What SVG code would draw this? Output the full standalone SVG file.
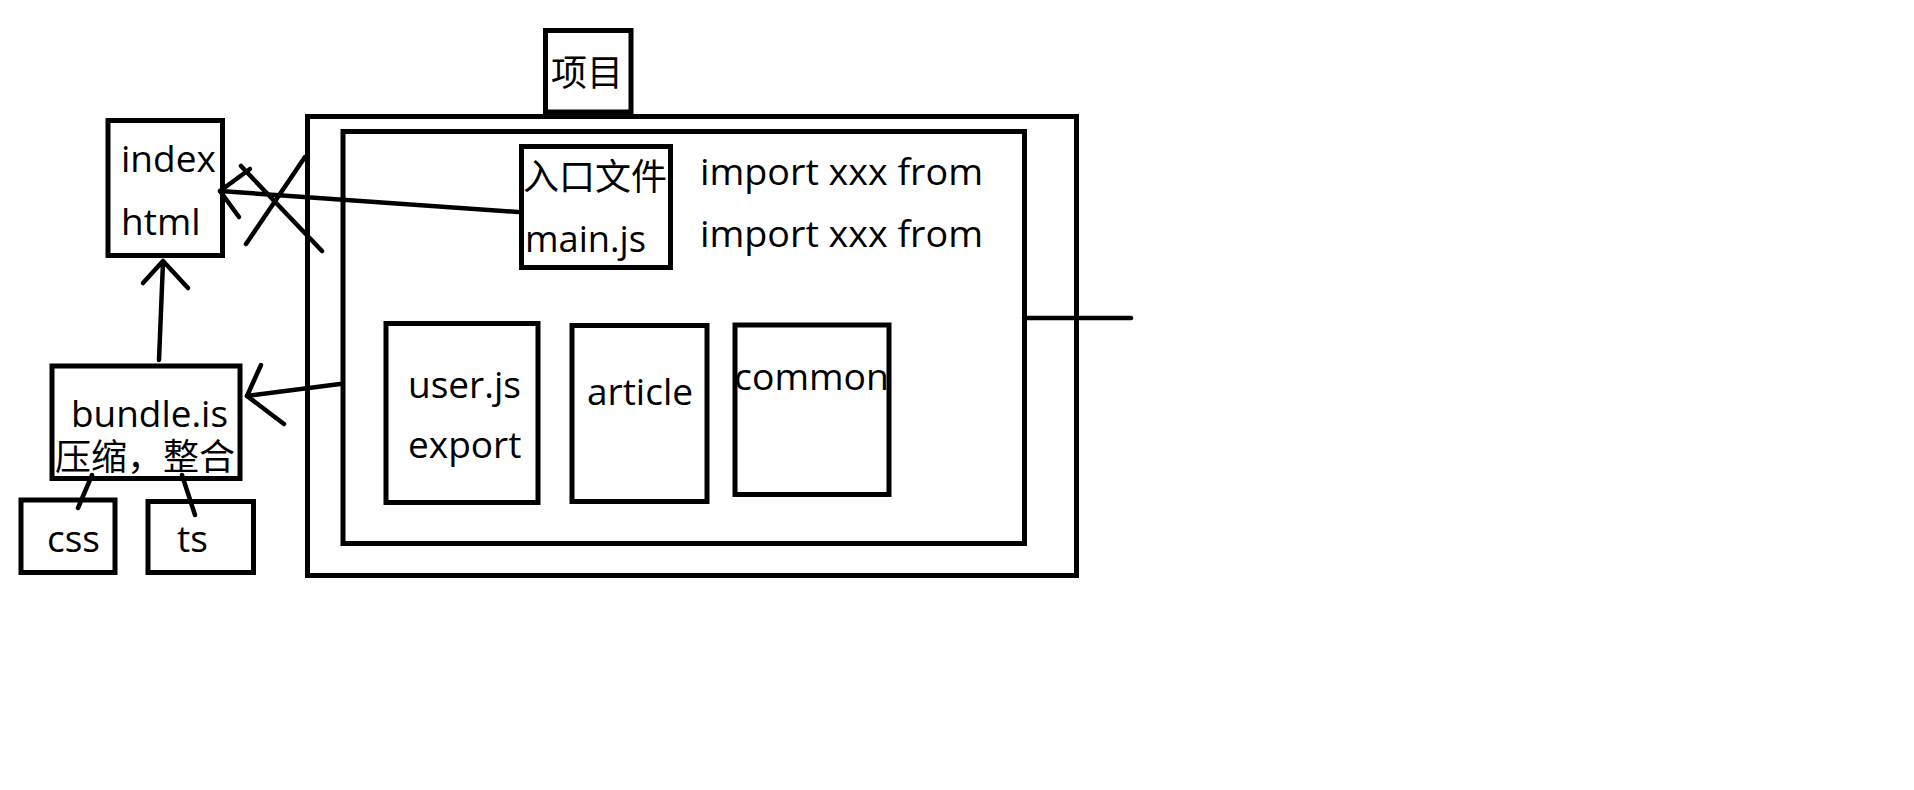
<svg xmlns="http://www.w3.org/2000/svg" width="1914" height="790" viewBox="0 0 1914 790">
<style>
.box{fill:none;stroke:#000;stroke-width:5}
.ln{fill:none;stroke:#000;stroke-width:4.5;stroke-linecap:round;stroke-linejoin:round}
.t{font-family:"Open Sans","Noto Sans CJK SC",sans-serif;font-size:37px;fill:#000}
.c{font-family:"Noto Sans CJK SC","Open Sans",sans-serif;font-size:36px;fill:#000}
</style>
<rect width="1914" height="790" fill="#fff"/>
<g id="project-label">
<rect class="box" x="545.5" y="30.5" width="85.5" height="81.5"/>
<text class="c" x="551" y="86">项目</text>
</g>
<g id="project">
<rect class="box" x="307.5" y="116.5" width="769" height="459"/>
</g>
<g id="src">
<rect class="box" x="343" y="131.5" width="681.5" height="412"/>
<text class="t" x="700" y="185" textLength="283" lengthAdjust="spacingAndGlyphs">import xxx from</text>
<text class="t" x="700" y="247" textLength="283" lengthAdjust="spacingAndGlyphs">import xxx from</text>
</g>
<g id="main-js">
<rect class="box" x="521.5" y="146.5" width="149" height="121"/>
<text class="c" x="523" y="190">入口文件</text>
<text class="t" x="525" y="252" textLength="121" lengthAdjust="spacingAndGlyphs">main.js</text>
</g>
<g id="user-js">
<rect class="box" x="386" y="323.5" width="152" height="179"/>
<text class="t" x="408" y="398">user.js</text>
<text class="t" x="408" y="458">export</text>
</g>
<g id="article">
<rect class="box" x="572" y="325.5" width="135" height="176"/>
<text class="t" x="587" y="405">article</text>
</g>
<g id="common">
<rect class="box" x="735" y="325" width="154" height="169.5"/>
<text class="t" x="734" y="390" textLength="155" lengthAdjust="spacingAndGlyphs">common</text>
</g>
<g id="index-html">
<rect class="box" x="108" y="120.5" width="114.5" height="135"/>
<text class="t" x="121" y="172">index</text>
<text class="t" x="121" y="235">html</text>
</g>
<g id="bundle">
<rect class="box" x="52" y="366" width="188" height="112.5"/>
<text class="t" x="71" y="427" textLength="157" lengthAdjust="spacingAndGlyphs">bundle.is</text>
<text class="c" x="55" y="470">压缩，整合</text>
</g>
<g id="css">
<rect class="box" x="21" y="500" width="94" height="72.5"/>
<text class="t" x="47" y="552">css</text>
</g>
<g id="ts">
<rect class="box" x="148" y="501.5" width="105.5" height="71"/>
<text class="t" x="177" y="552">ts</text>
</g>
<g id="connectors">
<path class="ln" d="M518 212 L220 191"/>
<path class="ln" d="M250 169 L220 191 L239 217"/>
<path class="ln" d="M241 166 L322 251"/>
<path class="ln" d="M246 244 L305 157"/>
<path class="ln" d="M340 384 L247 396"/>
<path class="ln" d="M261 365 L247 396 L284 424"/>
<path class="ln" d="M159 360 L163 262"/>
<path class="ln" d="M143 283 L163 261 L188 288"/>
<path class="ln" d="M78 508 L92 475"/>
<path class="ln" d="M195 515 L182 475"/>
<path class="ln" d="M1024 318 L1131 318"/>
</g>
</svg>
